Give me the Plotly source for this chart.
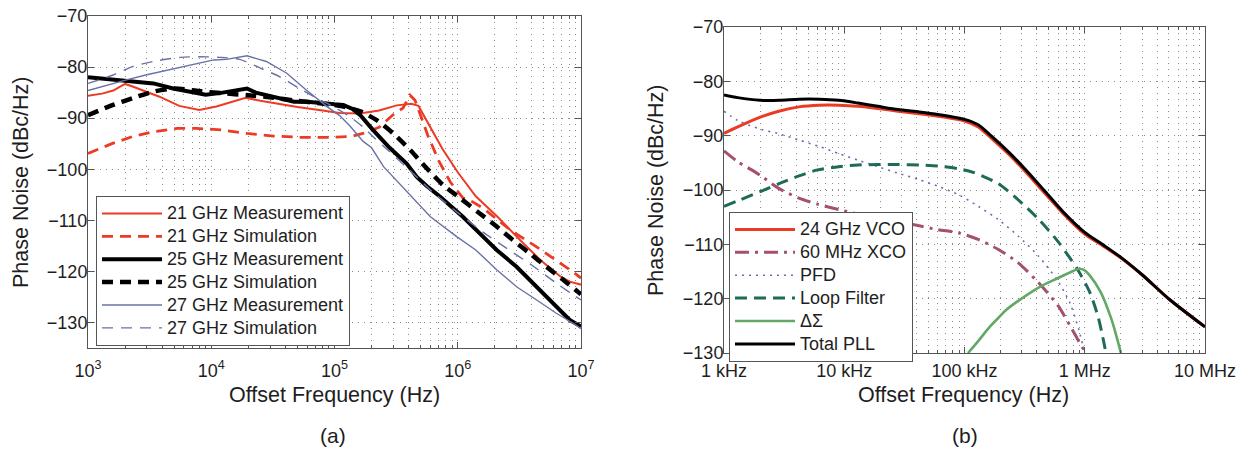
import plotly.graph_objects as go

# ---------------- Panel (a) data ----------------
f21_meas = [1000, 1300, 1600, 2000, 2300, 3000, 3800, 5500, 8000, 11000, 15000, 19000, 25000,
            35000, 50000, 75000, 110000, 160000, 230000, 320000, 420000, 480000, 600000, 750000,
            1000000, 1400000, 2100000, 2700000, 3400000, 4700000, 6800000, 8100000, 10000000]
pn21_meas = [-85.6, -85.2, -84.6, -83.3, -83.8, -84.8, -85.8, -87.6, -88.4, -87.7, -86.8, -86.0, -86.6,
             -87.2, -87.8, -88.4, -89.0, -89.1, -88.5, -87.5, -87.2, -87.6, -91.7, -96.0,
             -100.6, -105.3, -109.3, -112.1, -114.5, -117.8, -121.0, -122.0, -122.6]

f21_sim = [1000, 1600, 2300, 3400, 5300, 7600, 12000, 19500, 32000, 52000, 87000, 135000, 170000,
           230000, 300000, 360000, 410000, 450000, 500000, 570000, 700000, 870000, 1100000,
           1300000, 1600000, 2000000, 2700000, 4300000, 6300000, 8500000, 10000000]
pn21_sim = [-96.9, -94.9, -93.6, -92.65, -92.0, -92.0, -92.3, -93.0, -93.5, -93.75, -93.75, -93.6, -93.0,
            -91.8, -89.3, -88.0, -85.5, -86.5, -89.5, -93.3, -98.3, -102.5, -105.6,
            -106.3, -107.6, -109.5, -112.0, -115.1, -117.8, -120.0, -121.3]

f25_meas = [1000, 1600, 2300, 3400, 4900, 7600, 9000, 11700, 15000, 19500, 23000, 28000, 35000,
            47000, 60000, 76000, 100000, 118000, 140000, 162000, 205000, 280000, 385000, 465000,
            560000, 720000, 1100000, 1500000, 2070000, 3000000, 4370000, 6300000, 8100000, 10000000]
pn25_meas = [-82.0, -82.5, -82.9, -83.2, -84.2, -85.1, -85.4, -85.1, -84.6, -84.2, -85.0, -85.5, -86.0,
             -86.8, -86.8, -87.1, -87.3, -87.4, -88.2, -89.4, -92.3, -95.8, -98.9, -101.5,
             -103.3, -105.4, -109.3, -112.5, -115.8, -119.1, -123.0, -126.9, -129.5, -130.8]

f25_sim = [1000, 1600, 2300, 3400, 5000, 8000, 12000, 20000, 32000, 50000, 76000, 110000, 160000,
           220000, 300000, 410000, 560000, 760000, 1000000, 1500000, 2070000, 2800000, 3850000,
           5250000, 7200000, 10000000]
pn25_sim = [-89.4, -87.4, -86.1, -84.8, -84.2, -84.7, -85.1, -85.5, -86.0, -86.6, -87.1, -87.6, -88.6,
            -90.4, -93.0, -96.2, -99.8, -103.1, -105.3, -108.6, -111.2, -113.85, -116.5,
            -119.1, -121.7, -124.5]

f27_meas = [1000, 1600, 2050, 3000, 4400, 6800, 10500, 13300, 19500, 28000, 41000, 59000, 87000,
            110000, 133000, 170000, 200000, 250000, 385000, 600000, 980000, 1400000, 2070000,
            3000000, 4370000, 6300000, 8700000, 10000000]
pn27_meas = [-84.6, -83.2, -82.5, -81.5, -80.6, -79.6, -78.6, -78.5, -77.8, -78.9, -81.2, -84.5, -87.75,
             -89.5, -91.5, -94.5, -95.8, -99.5, -104.4, -109.3, -113.2, -115.8, -119.7,
             -123.0, -125.6, -128.2, -130.2, -131.2]

f27_sim = [1000, 1600, 2300, 3400, 5600, 8100, 11700, 17000, 25000, 36000, 52000, 76000, 98000,
           133000, 170000, 205000, 250000, 400000, 630000, 1000000, 1600000, 2500000, 4000000,
           6300000, 10000000]
pn27_sim = [-83.2, -81.55, -79.9, -78.9, -78.1, -77.97, -78.1, -78.5, -80.2, -81.9, -84.2, -86.4, -87.75,
            -89.7, -91.7, -93.6, -95.5, -100.0, -104.5, -108.5, -112.3, -115.5, -118.8,
            -122.3, -125.6]

# ---------------- Panel (b) data ----------------
f_vco = [1000, 1300, 2000, 2850, 4200, 6200, 9000, 13000, 19000, 28000, 42000, 60000, 100000,
         130000, 166000, 240000, 330000, 457000, 660000, 1000000, 1400000, 2000000, 3000000,
         5100000, 10000000]
pn_vco = [-89.6, -88.4, -86.6, -85.5, -84.7, -84.4, -84.4, -84.6, -85.0, -85.5, -85.95, -86.4, -87.3,
          -88.4, -90.4, -93.7, -96.9, -100.4, -104.3, -108.1, -110.2, -112.5, -115.6,
          -120.2, -125.2]

f_xco = [1000, 1300, 1700, 2000, 2900, 4200, 6000, 9000, 14000, 22000, 38000, 60000, 90000, 130000,
         190000, 280000, 410000, 600000, 810000, 950000, 1030000]
pn_xco = [-92.8, -94.8, -96.3, -97.3, -99.8, -101.5, -102.6, -103.6, -104.6, -105.5, -106.4, -107.3,
          -107.9, -109.1, -110.9, -113.4, -117.0, -121.3, -126.2, -128.9, -130.0]

f_pfd = [1000, 1300, 2000, 2800, 4200, 6200, 9000, 13000, 19000, 28000, 42000, 60000, 90000, 130000,
         190000, 280000, 410000, 600000, 760000, 900000, 1000000]
pn_pfd = [-85.5, -87.2, -88.8, -89.6, -90.8, -92.0, -93.3, -94.5, -95.7, -96.9, -98.1, -99.3, -100.9,
          -103.0, -105.4, -108.5, -112.1, -116.8, -121.0, -126.0, -130.0]

f_lf = [1000, 1300, 2000, 2900, 4200, 6000, 9000, 13000, 19000, 28000, 42000, 60000, 90000, 120000,
        190000, 280000, 410000, 600000, 870000, 1100000, 1290000, 1410000, 1500000]
pn_lf = [-103.0, -102.0, -100.3, -98.8, -97.4, -96.3, -95.7, -95.4, -95.3, -95.3, -95.4, -95.6, -96.1,
         -96.8, -98.8, -101.8, -105.3, -109.5, -114.6, -118.8, -123.3, -127.0, -130.0]

f_ds = [107000, 130000, 162000, 190000, 224000, 280000, 370000, 450000, 600000, 800000, 900000,
        1000000, 1100000, 1350000, 1650000, 1850000, 2000000]
pn_ds = [-130.0, -127.8, -125.2, -123.6, -122.0, -120.4, -118.6, -117.5, -116.2, -114.9, -114.5,
         -114.8, -115.7, -118.7, -123.5, -127.2, -130.0]

f_tot = [1000, 1300, 2000, 2900, 4200, 6200, 9000, 13000, 19000, 28000, 42000, 60000, 100000,
         130000, 166000, 240000, 330000, 457000, 660000, 1000000, 1400000, 2000000, 3000000,
         5100000, 10000000]
pn_tot = [-82.5, -83.0, -83.5, -83.5, -83.3, -83.3, -83.5, -84.0, -84.6, -85.2, -85.65, -86.1, -87.0,
          -88.0, -90.0, -93.3, -96.5, -100.0, -104.0, -107.8, -110.0, -112.4, -115.6,
          -120.2, -125.2]

# ticks
a_tickvals = [1e3, 1e4, 1e5, 1e6, 1e7]
a_ticktext = ["10<sup>3</sup>", "10<sup>4</sup>", "10<sup>5</sup>", "10<sup>6</sup>", "10<sup>7</sup>"]
b_ticktext = ["1 kHz", "10 kHz", "100 kHz", "1 MHz", "10 MHz"]
y_tickvals = [-70, -80, -90, -100, -110, -120, -130]
y_ticktext = ["\u221270", "\u221280", "\u221290", "\u2212100", "\u2212110", "\u2212120", "\u2212130"]

FONT = "Liberation Sans, Arial, Helvetica, sans-serif"
TXT = "#1e1e1e"
RED = "#ec3b24"
BLUE = "#6872a6"
GRID = "#8c8c8c"
W, H = 1241, 451

minor_vals = [k * 10 ** d for d in range(3, 7) for k in range(2, 10)]

fig = go.Figure()


def add(x, y, name, color, width, dash, xa, ya, legend, shape="linear", smoothing=0.7):
    line = dict(color=color, width=width, dash=dash, shape=shape)
    if shape == "spline":
        line["smoothing"] = smoothing
    fig.add_trace(go.Scatter(
        x=x, y=y, mode="lines",
        name='<span style="font-size:18px">' + name + '</span>',
        line=line, xaxis=xa, yaxis=ya, legend=legend))


add(f21_meas, pn21_meas, "21 GHz Measurement", RED, 2, "solid", "x", "y", "legend")
add(f21_sim, pn21_sim, "21 GHz Simulation", RED, 2.8, "11px,7px", "x", "y", "legend")
add(f25_meas, pn25_meas, "25 GHz Measurement", "#000000", 4, "solid", "x", "y", "legend")
add(f25_sim, pn25_sim, "25 GHz Simulation", "#000000", 4.5, "11px,7px", "x", "y", "legend", "spline")
add(f27_meas, pn27_meas, "27 GHz Measurement", BLUE, 1.4, "solid", "x", "y", "legend")
add(f27_sim, pn27_sim, "27 GHz Simulation", BLUE, 1.4, "11px,8px", "x", "y", "legend", "spline")

add(f_vco, pn_vco, "24 GHz VCO", RED, 3, "solid", "x2", "y2", "legend2", "spline")
add(f_xco, pn_xco, "60 MHz XCO", "#a4506f", 3, "14px,6px,3px,6px", "x2", "y2", "legend2", "spline")
add(f_pfd, pn_pfd, "PFD", "#6a6fae", 1.6, "2px,5px", "x2", "y2", "legend2", "spline")
add(f_lf, pn_lf, "Loop Filter", "#1e6b57", 3, "12px,7px", "x2", "y2", "legend2", "spline")
add(f_ds, pn_ds, "\u0394\u03a3", "#62a866", 2.6, "solid", "x2", "y2", "legend2", "spline", 1.0)
add(f_tot, pn_tot, "Total PLL", "#000000", 3, "solid", "x2", "y2", "legend2", "spline")


def px_x(p):
    return p / W


def px_y(p):
    return (H - p) / H


grid_kw = dict(showgrid=True, gridcolor=GRID, griddash="1px,5px", gridwidth=1)
common_x = dict(type="log", showline=True, linecolor="#555", linewidth=1, mirror="allticks",
                ticks="inside", ticklen=6, tickcolor="#555", zeroline=False,
                tickfont=dict(family=FONT, size=18, color=TXT),
                automargin=False, tickvals=a_tickvals,
                minor=dict(tickvals=minor_vals, ticks="inside", ticklen=3, tickcolor="#555", **grid_kw),
                **grid_kw)
common_y = dict(showline=True, linecolor="#555", linewidth=1, mirror="allticks", ticks="inside",
                ticklen=6, tickcolor="#555", zeroline=False,
                tickfont=dict(family=FONT, size=18, color=TXT), ticklabelstandoff=-4,
                automargin=False, tickvals=y_tickvals, ticktext=y_ticktext, **grid_kw)

legend_common = dict(xanchor="left", yanchor="top", bgcolor="white", bordercolor="#555",
                     borderwidth=1, font=dict(family=FONT, size=15.3, color=TXT),
                     itemwidth=60, tracegroupgap=0)


def label(text, x, y, angle=0, size=21.5):
    return dict(text=text, x=px_x(x), y=px_y(y), xref="paper", yref="paper", showarrow=False,
                textangle=angle, xanchor="center", yanchor="middle",
                font=dict(family=FONT, size=size, color=TXT))


fig.update_layout(
    width=W, height=H, margin=dict(l=0, r=0, t=0, b=0),
    template="none", paper_bgcolor="white", plot_bgcolor="white",
    font=dict(family=FONT, color=TXT),
    xaxis=dict(common_x, domain=[px_x(88), px_x(581)], range=[3, 7], ticktext=a_ticktext,
               anchor="y", ticklabelstandoff=6),
    yaxis=dict(common_y, domain=[px_y(348), px_y(16)], range=[-135, -70], anchor="x"),
    xaxis2=dict(common_x, domain=[px_x(724), px_x(1205)], range=[3, 7], ticktext=b_ticktext,
                anchor="y2", ticklabelstandoff=1),
    yaxis2=dict(common_y, domain=[px_y(353), px_y(27)], range=[-130, -70], anchor="x2"),
    legend=dict(legend_common, x=px_x(96), y=px_y(196)),
    legend2=dict(legend_common, x=px_x(729), y=px_y(212)),
    annotations=[
        label("Offset Frequency (Hz)", 334, 395),
        label("Offset Frequency (Hz)", 963, 395),
        label("Phase Noise (dBc/Hz)", 21, 182, -90),
        label("Phase Noise (dBc/Hz)", 656, 190, -90),
        label("(a)", 333, 435, size=21),
        label("(b)", 965, 435, size=21),
    ],
)

fig.write_html("out.html", config={"displayModeBar": False},
               post_script="document.body.style.margin='0px';")
